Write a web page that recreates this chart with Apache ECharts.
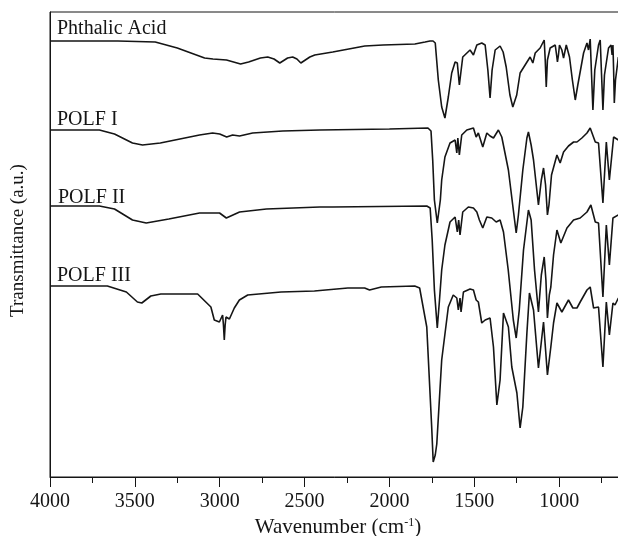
<!DOCTYPE html>
<html>
<head>
<meta charset="utf-8">
<script src="https://cdn.jsdelivr.net/npm/echarts@6/dist/echarts.min.js"></script>
<style>html,body{margin:0;padding:0;background:#fff;overflow:hidden}#c{width:618px;height:536px}</style>
</head>
<body>
<div id="c"></div>
<script>
// [wavenumber (cm-1), transmittance (a.u., stacked offsets)]
const seriesNames = ['Phthalic Acid', 'POLF I', 'POLF II', 'POLF III'];
const xTicks = [4000, 3500, 3000, 2500, 2000, 1500, 1000];

const phthalicAcid = [
  [4000,436],[3600,436],[3380,435],[3250,429],[3089,419],[3040,418],[2960,417],[2877,413],[2830,415],
  [2760,419],[2717,420],[2680,418],[2646,414],[2600,419],[2570,420],[2545,418],[2522,414],[2469,420],
  [2440,422],[2334,425],[2145,431],[2038,432],[1850,433],[1790,435],[1761,436],[1743,436],[1730,434],
  [1712,397],[1692,370],[1673,359],[1653,380],[1633,404],[1613,415],[1600,414],[1588,392],[1568,420],
  [1525,427],[1505,422],[1485,432],[1456,434],[1436,432],[1420,407],[1407,379],[1395,407],[1377,427],
  [1348,431],[1330,425],[1312,410],[1290,382],[1273,370],[1250,382],[1230,404],[1171,420],[1155,414],
  [1141,424],[1112,429],[1088,437],[1082,417],[1076,390],[1069,417],[1053,429],[1023,432],[1015,422],
  [1010,415],[1004,422],[998,432],[984,427],[974,419],[958,432],[939,420],[922,397],[905,377],[890,392],
  [856,424],[836,434],[827,427],[817,438],[809,402],[801,367],[790,407],[768,432],[758,437],[750,402],
  [742,367],[733,402],[709,429],[694,432],[688,422],[683,432],[679,407],[675,374],[668,397],[651,420]
];

const polfI = [
  [4000,347],[3709,347],[3620,343],[3514,334],[3455,332],[3350,334],[3119,342],[3042,344],[3000,343],
  [2959,340],[2924,342],[2883,341],[2806,344],[2629,346],[2410,347],[2000,348],[1773,349],[1755,346],
  [1745,317],[1735,277],[1718,254],[1712,254],[1700,277],[1692,297],[1673,320],[1643,334],[1613,337],
  [1603,324],[1597,339],[1588,322],[1574,342],[1544,347],[1505,349],[1489,340],[1476,344],[1450,330],
  [1426,344],[1407,341],[1387,339],[1358,347],[1338,340],[1299,307],[1270,267],[1253,244],[1240,262],
  [1214,307],[1190,339],[1181,345],[1165,332],[1151,317],[1122,272],[1105,297],[1092,309],[1080,292],
  [1069,262],[1060,272],[1045,302],[1013,322],[994,314],[974,325],[945,331],[915,335],[895,335],
  [866,339],[836,344],[817,349],[787,335],[768,334],[742,274],[722,335],[704,297],[679,340],[651,337]
];

const polfII = [
  [4000,271],[3709,271],[3620,268],[3514,257],[3433,254],[3300,258],[3119,264],[3001,264],[2961,259],
  [2883,265],[2725,268],[2410,270],[2334,270],[1780,271],[1760,269],[1748,237],[1735,187],[1718,149],
  [1705,177],[1692,207],[1673,232],[1643,255],[1613,260],[1600,245],[1592,257],[1584,242],[1568,265],
  [1535,270],[1505,269],[1485,265],[1470,257],[1450,249],[1426,260],[1397,259],[1371,255],[1348,257],
  [1328,245],[1300,207],[1270,157],[1253,139],[1235,167],[1210,227],[1181,267],[1165,257],[1145,207],
  [1122,165],[1105,202],[1088,220],[1078,197],[1069,159],[1058,182],[1049,190],[1033,222],[1013,247],
  [990,234],[954,249],[915,257],[876,259],[836,265],[813,272],[787,255],[768,254],[742,180],[722,252],
  [704,212],[683,259],[651,262]
];

const polfIII = [
  [4000,191],[3662,191],[3550,185],[3485,175],[3459,174],[3406,181],[3347,183],[3130,183],[3082,175],
  [3052,170],[3032,157],[3002,155],[2983,162],[2978,152],[2973,137],[2968,152],[2963,160],[2943,158],
  [2914,169],[2884,177],[2835,182],[2639,185],[2442,186],[2245,189],[2146,189],[2117,187],[2048,190],
  [1851,191],[1822,189],[1780,150],[1751,50],[1742,15],[1730,22],[1721,33],[1692,117],[1653,170],
  [1624,182],[1603,179],[1594,167],[1584,179],[1578,165],[1564,185],[1525,188],[1505,187],[1489,177],
  [1476,175],[1456,154],[1436,157],[1407,159],[1387,130],[1367,72],[1348,97],[1328,164],[1299,150],
  [1279,110],[1249,84],[1230,49],[1214,70],[1190,144],[1175,184],[1151,167],[1122,109],[1092,155],
  [1069,102],[1049,130],[1033,154],[1013,174],[984,165],[945,177],[919,169],[895,169],[876,175],
  [836,187],[817,190],[797,169],[768,170],[742,110],[722,175],[704,142],[683,174],[671,172],[651,179]
];

const allData = [phthalicAcid, polfI, polfII, polfIII];
const labelPos = [[57, 19], [57, 110], [58, 188], [57, 266]];

const FONT = '"Liberation Serif", "DejaVu Serif", serif';
const INK = '#151515';
const chart = echarts.init(document.getElementById('c'), null, {renderer: 'canvas'});
chart.setOption({
  animation: false,
  backgroundColor: '#fff',
  grid: {left: 50, top: 12, width: 594, height: 465, outerBoundsMode: 'none', containLabel: false,
    show: true, borderColor: INK, borderWidth: 1},
  xAxis: {
    type: 'value', inverse: true, min: 500, max: 4000, interval: 500,
    axisLine: {show: true, onZero: false, lineStyle: {color: INK, width: 1}},
    axisTick: {show: true, length: 10, inside: false, lineStyle: {color: INK}},
    minorTick: {show: true, splitNumber: 2, length: 6, lineStyle: {color: INK}},
    splitLine: {show: false},
    axisLabel: {color: INK, fontFamily: FONT, fontSize: 20, margin: 15,
      formatter: v => xTicks.indexOf(v) >= 0 ? String(v) : ''},
    name: 'Wavenumber (cm{s|-1})', nameLocation: 'middle', nameGap: 36,
    nameTextStyle: {color: INK, fontFamily: FONT, fontSize: 21, padding: [0, 18, 0, 0],
      rich: {s: {fontFamily: FONT, fontSize: 12, color: INK, padding: [0, 0, 9, 0]}}}
  },
  yAxis: {
    type: 'value', min: 0, max: 465,
    axisLine: {show: true, lineStyle: {color: INK, width: 1}},
    axisTick: {show: false}, axisLabel: {show: false}, splitLine: {show: false},
    name: 'Transmittance (a.u.)', nameLocation: 'middle', nameGap: 22, nameRotate: 90,
    nameTextStyle: {color: INK, fontFamily: FONT, fontSize: 19, padding: [0, 0, 0, 8]}
  },
  graphic: seriesNames.map((n, i) => ({
    type: 'text', left: labelPos[i][0], top: labelPos[i][1],
    style: {text: n, fill: INK, font: '20px ' + FONT}
  })),
  series: allData.map((d, i) => ({
    name: seriesNames[i], type: 'line', data: d, showSymbol: false, symbol: 'none',
    lineStyle: {color: INK, width: 1.6}, smooth: false
  }))
});
</script>
</body>
</html>
